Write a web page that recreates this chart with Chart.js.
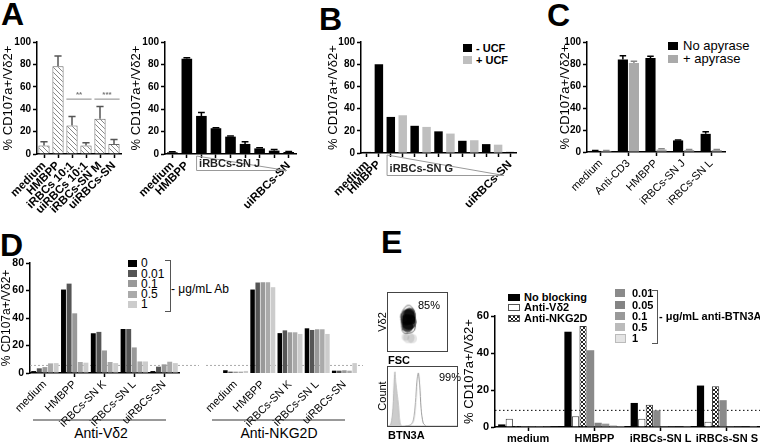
<!DOCTYPE html>
<html>
<head>
<meta charset="utf-8">
<script src="https://cdn.jsdelivr.net/npm/chart.js@4.4.0/dist/chart.umd.min.js"></script>
<style>
body{margin:0;width:760px;height:442px;background:#fff;position:relative;overflow:hidden;font-family:"Liberation Sans",Arial,sans-serif;color:#000}
.letter{position:absolute;font-weight:bold;font-size:32px;line-height:32px}
.t{position:absolute;white-space:nowrap;line-height:12px;font-size:11px}
.b{font-weight:bold}
.sw{position:absolute}
.rot{position:absolute;white-space:nowrap;transform:translate(-50%,-50%) rotate(-90deg);font-size:11px}
.brk{position:absolute;border:1px solid #555;border-left:none}
</style>
</head>
<body>
<div class="letter" style="left:1px;top:-2px">A</div>
<div class="letter" style="left:319px;top:3px">B</div>
<div class="letter" style="left:547px;top:-1px">C</div>
<div class="letter" style="left:0px;top:229px">D</div>
<div class="letter" style="left:381px;top:226px">E</div>

<!-- B legend -->
<div class="sw" style="left:463px;top:44px;width:9px;height:8px;background:#000"></div>
<div class="t b" style="left:476px;top:42px">- UCF</div>
<div class="sw" style="left:463px;top:56px;width:9px;height:8px;background:#bfbfbf"></div>
<div class="t b" style="left:476px;top:54px">+ UCF</div>

<!-- C legend -->
<div class="sw" style="left:668px;top:42px;width:10px;height:8px;background:#000"></div>
<div class="t" style="left:683px;top:39px;font-size:13px;line-height:14px">No apyrase</div>
<div class="sw" style="left:668px;top:55px;width:10px;height:8px;background:#aaa"></div>
<div class="t" style="left:683px;top:52px;font-size:13px;line-height:14px">+ apyrase</div>

<!-- D legend -->
<div class="sw" style="left:128px;top:260px;width:9px;height:7px;background:#000"></div>
<div class="sw" style="left:128px;top:270px;width:9px;height:7px;background:#555"></div>
<div class="sw" style="left:128px;top:280px;width:9px;height:7px;background:#999"></div>
<div class="sw" style="left:128px;top:291px;width:9px;height:7px;background:#aaa"></div>
<div class="sw" style="left:128px;top:301px;width:9px;height:7px;background:#ccc"></div>
<div class="t" style="left:141px;top:257px;font-size:12px">0</div>
<div class="t" style="left:141px;top:268px;font-size:12px">0.01</div>
<div class="t" style="left:141px;top:278px;font-size:12px">0.1</div>
<div class="t" style="left:141px;top:288px;font-size:12px">0.5</div>
<div class="t" style="left:141px;top:298px;font-size:12px">1</div>
<div class="brk" style="left:165px;top:260px;width:5px;height:50px"></div>
<div class="t" style="left:171px;top:283px;font-size:12px">- μg/mL Ab</div>
<div style="position:absolute;left:33px;top:419px;width:133px;border-top:2px solid #999"></div>
<div class="t" style="left:66px;top:426px;width:70px;text-align:center;font-size:14px;line-height:14px">Anti-Vδ2</div>
<div style="position:absolute;left:212px;top:419px;width:133px;border-top:2px solid #999"></div>
<div class="t" style="left:229px;top:426px;width:100px;text-align:center;font-size:14px;line-height:14px">Anti-NKG2D</div>

<!-- E legends -->
<div class="sw" style="left:508px;top:294px;width:12px;height:7px;background:#000"></div>
<div class="sw" style="left:508px;top:304px;width:10px;height:5px;background:#fff;border:1px solid #555"></div>
<canvas id="crossSw" class="sw" width="12" height="7" style="left:508px;top:315px"></canvas>
<div class="t b" style="left:524px;top:291px">No blocking</div>
<div class="t b" style="left:524px;top:301px">Anti-Vδ2</div>
<div class="t b" style="left:524px;top:312px">Anti-NKG2D</div>
<div class="sw" style="left:615px;top:289px;width:10px;height:8px;background:#8a8a8a"></div>
<div class="sw" style="left:615px;top:301px;width:10px;height:8px;background:#848484"></div>
<div class="sw" style="left:615px;top:312px;width:10px;height:8px;background:#999"></div>
<div class="sw" style="left:615px;top:323px;width:10px;height:8px;background:#bbb"></div>
<div class="sw" style="left:615px;top:334px;width:9px;height:7px;background:#e4e4e4;border:1px solid #bbb"></div>
<div class="t b" style="left:632px;top:287px">0.01</div>
<div class="t b" style="left:632px;top:299px">0.05</div>
<div class="t b" style="left:632px;top:310px">0.1</div>
<div class="t b" style="left:632px;top:321px">0.5</div>
<div class="t b" style="left:632px;top:332px">1</div>
<div class="brk" style="left:652px;top:290px;width:5px;height:52px"></div>
<div class="t b" style="left:659px;top:310px">- μg/mL anti-BTN3A</div>

<!-- E flow insets text -->
<div class="t" style="left:418px;top:299px">85%</div>
<div class="rot" style="left:382px;top:322px">Vδ2</div>
<div class="t b" style="left:388px;top:354px">FSC</div>
<div class="t" style="left:439px;top:371px">99%</div>
<div class="rot" style="left:382px;top:396px">Count</div>
<div class="t b" style="left:388px;top:429px">BTN3A</div>

<script>
// ---- data ----
// A, left: hatched bars with error bars
const aCats = ['medium', 'HMBPP', 'iRBCs 10:1', 'uiRBCs 10:1', 'iRBCs-SN M', 'uiRBCs-SN'];
const aVals = [7.5, 78.4, 25.4, 7.5, 31.4, 9];
const aErr = [11, 87.4, 33.5, 10, 42.5, 13];
const aSigLevel = 49;

// A, right: dilutions of iRBCs-SN J
const a2Cats = ['medium', 'HMBPP', '', '', '', '', '', '', 'uiRBCs-SN'];
const a2Vals = [1.5, 85, 34, 23, 15.5, 9, 5, 3, 1.8];
const a2Err = [2, 86, 37, 23.5, 16, 11, 5.5, 4, 2.2];

// B: -UCF / +UCF
const bCats = ['medium', 'HMBPP', '', '', '', '', '', '', '', '', '', '', 'uiRBCs-SN'];
const bVals = [1, 80, 32.5, 34, 24.5, 23.5, 19.5, 17.5, 11, 11.5, 8, 7.5, 1];
const bUCF = ['-', '-', '-', '+', '-', '+', '-', '+', '-', '+', '-', '+', '-'];

// C: apyrase
const cCats = ['medium', 'Anti-CD3', 'HMBPP', 'iRBCs-SN J', 'iRBCs-SN L'];
const cNoApy = [1, 84, 85.5, 10.5, 16.5];
const cNoApyErr = [1.3, 87.5, 87, 11, 18.5];
const cApy = [1, 81, 2.2, 1.8, 1.8];
const cApyErr = [1.3, 82.5, 3, 2.3, 2.3];

// D: antibody doses (µg/mL)
const dCats = ['medium', 'HMBPP', 'iRBCs-SN K', 'iRBCs-SN L', 'uiRBCs-SN'];
const dDoses = ['0', '0.01', '0.1', '0.5', '1'];
const dVd2_0 = [1.4, 60.7, 28.9, 32, 1.4];
const dVd2_001 = [3.4, 65, 29.9, 32, 4.6];
const dVd2_01 = [4.3, 43.4, 16.4, 18.6, 6.3];
const dVd2_05 = [7, 8, 8, 8.4, 8.2];
const dVd2_1 = [7.2, 7.5, 7.2, 8.4, 7.2];
const dNkg_0 = [2, 60.7, 29, 32.5, 1.7];
const dNkg_001 = [1, 65.8, 31, 31.3, 1.7];
const dNkg_01 = [1, 66, 29.6, 31.8, 2];
const dNkg_05 = [1, 66, 29.6, 31.8, 1.7];
const dNkg_1 = [1.5, 62.4, 28.4, 28.4, 7.2];
const dBaseline = 5.5;

// E: blocking
const eCats = ['medium', 'HMBPP', 'iRBCs-SN L', 'iRBCs-SN S'];
const eNoBlock = [1.4, 51.5, 13, 22.4];
const eAntiVd2 = [4.5, 5.8, 4.5, 2.9];
const eAntiNKG2D = [0.5, 54.6, 12, 22];
const eBtn001 = [0.5, 41.5, 9, 14.5];
const eBtn005 = [0.5, 2.3, 0.5, 0.5];
const eBtn01 = [0.5, 1.8, 0.4, 0.4];
const eBtn05 = [0.4, 0.9, 0.2, 0.2];
const eBtn1 = [0.3, 0.5, 0.1, 0.1];
const eBaseline = 9;

// E insets (flow cytometry), in % of each inset box
const flowGate = [{x:16,y:77},{x:25,y:88},{x:34,y:88},{x:43,y:75},{x:46,y:48},{x:41,y:28},{x:18,y:25},{x:13,y:48},{x:16,y:77}];
const flowCore = [{x:28,y:62,r:8},{x:30,y:50,r:8},{x:27,y:40,r:6},{x:32,y:70,r:6},{x:24,y:55,r:6},{x:35,y:55,r:5}];
const flowLow = [{x:30,y:13,r:6},{x:38,y:11,r:5},{x:22,y:15,r:4}];
const histIsoX = [0, 4, 7, 9, 10, 11, 13, 15, 17, 20, 100];
const histIsoY = [0, 3, 30, 80, 92, 75, 55, 35, 8, 0, 0];
const histBtnX = [25, 33, 37, 40, 42, 44, 46, 48, 51, 55];
const histBtnY = [0, 2, 10, 40, 75, 90, 70, 30, 5, 0];

// ---- helpers ----
Chart.defaults.font.family = "'Liberation Sans', Arial, sans-serif";
Chart.defaults.color = '#000';

function tile(size, draw) {
  const c = document.createElement('canvas');
  c.width = c.height = size;
  const g = c.getContext('2d');
  draw(g);
  return document.createElement('canvas').getContext('2d').createPattern(c, 'repeat');
}
const hatch = tile(5, g => {
  g.fillStyle = '#fff'; g.fillRect(0, 0, 5, 5);
  g.fillStyle = '#888';
  for (let i = 0; i < 5; i++) g.fillRect(i, i, 1, 1);
});
const cross = tile(4, g => {
  g.fillStyle = '#fff'; g.fillRect(0, 0, 4, 4);
  g.fillStyle = '#222';
  for (let i = 0; i < 4; i++) { g.fillRect(i, i, 1, 1); g.fillRect(3 - i, i, 1, 1); }
});
(() => {
  const g = document.getElementById('crossSw').getContext('2d');
  g.fillStyle = cross; g.fillRect(0, 0, 12, 7);
  g.strokeStyle = '#555'; g.strokeRect(0.5, 0.5, 11, 6);
})();

const errPlugin = {
  id: 'err',
  afterDatasetsDraw(chart) {
    const ctx = chart.ctx, ys = chart.scales.y;
    chart.data.datasets.forEach((ds, i) => {
      if (!ds.errHi) return;
      chart.getDatasetMeta(i).data.forEach((bar, j) => {
        const e = ds.errHi[j];
        if (e == null) return;
        const yt = ys.getPixelForValue(e), w = bar.width * 0.32;
        ctx.save();
        ctx.strokeStyle = ds.errColor || '#000';
        ctx.lineWidth = 1.5;
        ctx.beginPath();
        ctx.moveTo(bar.x, bar.y); ctx.lineTo(bar.x, yt);
        ctx.moveTo(bar.x - w, yt); ctx.lineTo(bar.x + w, yt);
        ctx.stroke();
        ctx.restore();
      });
    });
  }
};

const refLine = {
  id: 'refLine',
  beforeDatasetsDraw(chart, args, o) {
    const ctx = chart.ctx, a = chart.chartArea;
    const y = chart.scales.y.getPixelForValue(o.value);
    ctx.save();
    ctx.strokeStyle = o.color; ctx.lineWidth = 1; ctx.setLineDash(o.dash);
    ctx.beginPath(); ctx.moveTo(a.left + (o.from || 0), y); ctx.lineTo(a.right + (o.to || 0), y); ctx.stroke();
    ctx.restore();
  }
};

const sigPlugin = {
  id: 'sig',
  afterDatasetsDraw(chart, args, o) {
    const ctx = chart.ctx, bars = chart.getDatasetMeta(0).data;
    const y = chart.scales.y.getPixelForValue(o.value);
    ctx.save();
    ctx.strokeStyle = '#888'; ctx.fillStyle = '#777'; ctx.lineWidth = 1;
    ctx.font = "bold 8px 'Liberation Sans', Arial";
    ctx.textAlign = 'center';
    o.pairs.forEach(([i, j, s]) => {
      const x1 = bars[i].x - bars[i].width / 2, x2 = bars[j].x + bars[j].width / 2;
      ctx.beginPath(); ctx.moveTo(x1, y); ctx.lineTo(x2, y); ctx.stroke();
      ctx.fillText(s, (x1 + x2) / 2, y - 2);
    });
    ctx.restore();
  }
};

const triPlugin = {
  id: 'tri',
  afterDraw(chart, args, o) {
    const ctx = chart.ctx, bars = chart.getDatasetMeta(0).data;
    const y0 = chart.chartArea.bottom + 2, y1 = y0 + o.h;
    const x0 = bars[o.from].x - bars[o.from].width / 2;
    const x1 = bars[o.to].x + (o.pad || 0);
    ctx.save();
    ctx.strokeStyle = '#999'; ctx.lineWidth = 1;
    ctx.beginPath();
    ctx.moveTo(x0 + 0.5, y0); ctx.lineTo(x0 + 0.5, y1 + 0.5); ctx.lineTo(x1, y1 + 0.5);
    ctx.moveTo(x0 + 0.5, y0); ctx.lineTo(x1, y1 + 0.5);
    ctx.stroke();
    ctx.fillStyle = '#222';
    ctx.font = "bold 11px 'Liberation Sans', Arial";
    ctx.textBaseline = 'bottom';
    ctx.fillText(o.text, x0 + 3, y1 - 1);
    ctx.restore();
  }
};

function place(L, T, W, H) {
  const c = document.createElement('canvas');
  c.width = W; c.height = H;
  c.style.cssText = `position:absolute;left:${L}px;top:${T}px;width:${W}px;height:${H}px`;
  document.body.appendChild(c);
  return c;
}

function barChart(g, labels, datasets, o) {
  const c = place(g.L, g.T, g.W, g.H);
  return new Chart(c, {
    type: 'bar',
    data: { labels, datasets },
    options: {
      responsive: false, animation: false, devicePixelRatio: 1,
      layout: { padding: { left: o.hideY ? g.x0 - g.L : 0, top: g.y0 - g.T, right: g.L + g.W - g.x1, bottom: 0 } },
      plugins: {
        legend: { display: false }, tooltip: { enabled: false },
        refLine: o.refLine || false, sig: o.sig || false, tri: o.tri || false
      },
      scales: {
        x: {
          offset: true,
          ticks: { autoSkip: false, maxRotation: o.rot, minRotation: o.rot, padding: 1,
                   color: '#000', font: { size: o.xSize || 11, weight: o.xBold ? 'bold' : 'normal' } },
          grid: { offset: false, drawOnChartArea: false, display: !o.noXAxis, color: '#000', tickLength: 4, tickWidth: 1.5 },
          border: { display: !o.noXAxis, color: '#000', width: 1.5 },
          afterFit(s) { s.height = g.T + g.H - g.y1; }
        },
        y: {
          display: !o.hideY, min: 0, max: o.max,
          ticks: { stepSize: o.step, padding: 2, color: '#000', font: { size: o.ySize || 10, weight: 'bold' } },
          grid: { drawOnChartArea: false, color: '#000', tickLength: 4, tickWidth: 1.5 },
          border: { color: '#000', width: 1.5 },
          title: { display: true, text: '% CD107a+/Vδ2+', color: '#000', font: { size: o.tSize || 13 }, padding: { top: 0, bottom: 0 } },
          afterFit(s) { s.width = g.x0 - g.L; }
        }
      }
    },
    plugins: [refLine, sigPlugin, triPlugin, errPlugin]
  });
}

// ---- A left ----
barChart({ L: 1, T: 30, W: 130, H: 190, x0: 37, x1: 121, y0: 42, y1: 154 }, aCats, [{
  data: aVals, errHi: aErr, errColor: '#555', backgroundColor: hatch, borderColor: '#666', borderWidth: 1,
  barPercentage: 0.8, categoryPercentage: 1
}], { max: 100, step: 20, rot: 45, xBold: true, xSize: 11.5, sig: { value: aSigLevel, pairs: [[2, 3, '**'], [4, 5, '***']] } });

// ---- A right ----
barChart({ L: 129, T: 30, W: 177, H: 190, x0: 165, x1: 296, y0: 42, y1: 154 }, a2Cats, [{
  data: a2Vals, errHi: a2Err, backgroundColor: '#000', barPercentage: 0.73, categoryPercentage: 1
}], { max: 100, step: 20, rot: 45, xBold: true, xSize: 11.5, tri: { from: 2, to: 8, pad: -2, h: 14, text: 'iRBCs-SN J' } });

// ---- B ----
barChart({ L: 326, T: 30, W: 200, H: 190, x0: 361, x1: 516, y0: 42, y1: 153 }, bCats, [{
  data: bVals, backgroundColor: bUCF.map(s => s === '-' ? '#000' : '#bfbfbf'),
  barPercentage: 0.71, categoryPercentage: 1
}], { max: 100, step: 20, rot: 45, xBold: true, xSize: 11.5, tri: { from: 2, to: 12, pad: -6, h: 20, text: 'iRBCs-SN G' } });

// ---- C ----
barChart({ L: 558, T: 30, W: 176, H: 190, x0: 587, x1: 725, y0: 42, y1: 152 }, cCats, [
  { data: cNoApy, errHi: cNoApyErr, backgroundColor: '#000', barPercentage: 0.92, categoryPercentage: 0.8 },
  { data: cApy, errHi: cApyErr, errColor: '#888', backgroundColor: '#aaa', barPercentage: 0.92, categoryPercentage: 0.8 }
], { max: 100, step: 20, rot: 45, xSize: 11 });

// ---- D ----
const dColors = ['#000', '#555', '#999', '#aaa', '#ccc'];
const dSets = (rows) => rows.map((r, i) => ({ label: dDoses[i], data: r, backgroundColor: dColors[i], barPercentage: 0.88, categoryPercentage: 0.94 }));
barChart({ L: -1, T: 250, W: 200, H: 192, x0: 30, x1: 179, y0: 263, y1: 373 }, dCats,
  dSets([dVd2_0, dVd2_001, dVd2_01, dVd2_05, dVd2_1]),
  { max: 80, step: 20, rot: 45, xSize: 11, ySize: 10.5, tSize: 12, refLine: { value: dBaseline, color: '#aaa', dash: [2, 2], to: 20 } });
barChart({ L: 190, T: 250, W: 180, H: 192, x0: 206, x1: 358, y0: 263, y1: 373 }, dCats,
  dSets([dNkg_0, dNkg_001, dNkg_01, dNkg_05, dNkg_1]),
  { max: 80, step: 20, rot: 45, xSize: 11, hideY: true, noXAxis: true, refLine: { value: dBaseline, color: '#aaa', dash: [2, 2], from: -16, to: 5 } });

// ---- E ----
const eOpt = { barPercentage: 0.96, categoryPercentage: 0.91 };
barChart({ L: 462, T: 290, W: 298, H: 152, x0: 495, x1: 760, y0: 316, y1: 427 }, eCats, [
  { label: 'No blocking', data: eNoBlock, backgroundColor: '#000', ...eOpt },
  { label: 'Anti-Vδ2', data: eAntiVd2, backgroundColor: '#fff', borderColor: '#444', borderWidth: 1, ...eOpt },
  { label: 'Anti-NKG2D', data: eAntiNKG2D, backgroundColor: cross, borderColor: '#333', borderWidth: 1, ...eOpt },
  { label: '0.01', data: eBtn001, backgroundColor: '#8a8a8a', ...eOpt },
  { label: '0.05', data: eBtn005, backgroundColor: '#848484', ...eOpt },
  { label: '0.1', data: eBtn01, backgroundColor: '#999', ...eOpt },
  { label: '0.5', data: eBtn05, backgroundColor: '#bbb', ...eOpt },
  { label: '1', data: eBtn1, backgroundColor: '#ddd', ...eOpt }
], { max: 60, step: 20, rot: 0, xSize: 11, xBold: true, ySize: 11, refLine: { value: eBaseline, color: '#000', dash: [1.5, 2.5] } });

// ---- E insets ----
const flatScale = { display: false, min: 0, max: 100 };
const insetOpts = {
  responsive: false, animation: false, devicePixelRatio: 1,
  plugins: { legend: { display: false }, tooltip: { enabled: false } },
  scales: { x: { ...flatScale, type: 'linear' }, y: flatScale }
};
const dot = place(387, 292, 61, 60);
dot.style.border = '1px solid #444'; dot.style.boxSizing = 'border-box';
new Chart(dot, {
  type: 'bubble',
  data: { datasets: [
    { data: flowLow, backgroundColor: 'rgba(0,0,0,0.1)', borderWidth: 0 },
    { type: 'line', data: flowGate, borderColor: '#666', borderWidth: 1, pointRadius: 0, tension: 0.3 },
    { data: flowCore, backgroundColor: 'rgba(0,0,0,0.75)', borderWidth: 0 }
  ] },
  options: insetOpts
});
const hist = place(387, 366, 71, 61);
hist.style.border = '1px solid #444'; hist.style.boxSizing = 'border-box';
new Chart(hist, {
  type: 'line',
  data: { datasets: [
    { data: histIsoX.map((x, i) => ({ x, y: histIsoY[i] })), fill: true, backgroundColor: '#ccc', borderColor: '#bbb', borderWidth: 1, pointRadius: 0, tension: 0.3 },
    { data: histBtnX.map((x, i) => ({ x, y: histBtnY[i] })), fill: false, borderColor: '#999', borderWidth: 1, pointRadius: 0, tension: 0.3 }
  ] },
  options: insetOpts
});
</script>
</body>
</html>
